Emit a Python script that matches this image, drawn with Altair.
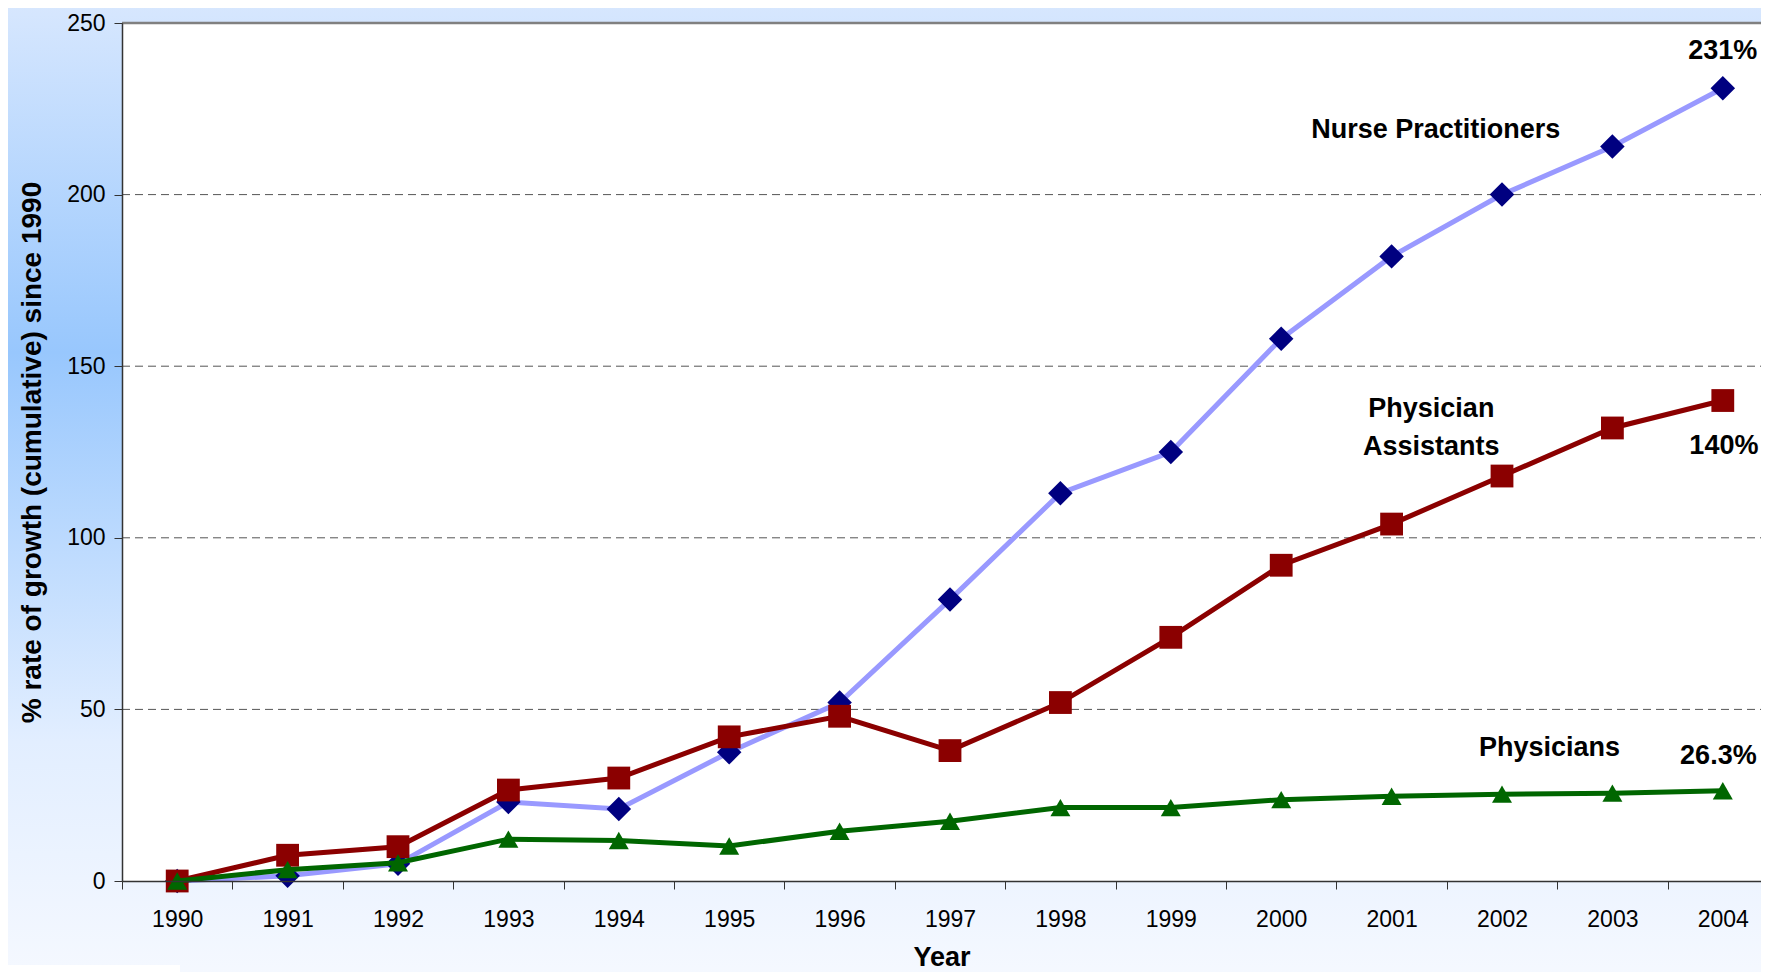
import altair as alt
import pandas as pd

years = list(range(1990, 2005))
nurse_practitioners = [0, 1.5, 5, 23, 21, 37.5, 52, 82, 113, 125, 158, 182, 200, 214, 231]
physician_assistants = [0, 7.5, 10, 26.5, 30, 42, 48, 38, 52, 71, 92, 104, 118, 132, 140]
physicians = [0, 3.3, 5.3, 12.2, 11.8, 10.2, 14.5, 17.4, 21.4, 21.4, 23.7, 24.7, 25.3, 25.6, 26.3]

grid_values = [50, 100, 150, 200]
top_value = [250]
y_ticks = [0, 50, 100, 150, 200, 250]
x_tick_positions = [y - 0.5 for y in years]

ann_text = [["Nurse Practitioners"], ["Physician", "Assistants"], ["Physicians"], ["231%"], ["140%"], ["26.3%"]]
ann_x = [2001.40, 2001.36, 2002.43, 2004.0, 2004.01, 2003.96]
ann_y = [218.8, 137.5, 38.8, 241.8, 126.7, 36.4]

W, H = 1639, 858
FONT = "Liberation Sans"

df = pd.DataFrame({
    "year": years * 3,
    "value": nurse_practitioners + physician_assistants + physicians,
    "series": ["NP"] * 15 + ["PA"] * 15 + ["PH"] * 15,
})
ann = pd.DataFrame({"text": ann_text, "x": ann_x, "y": ann_y})

xscale = alt.Scale(domain=[1989.5, 1989.5 + W / 110.4], nice=False, zero=False)
yscale = alt.Scale(domain=[0, 250], nice=False, zero=True)

xaxis = alt.Axis(
    values=x_tick_positions, labelExpr="format(datum.value + 0.5, 'd')",
    labelOffset=55.2, labelFlush=False, labelOverlap=False, grid=False,
    tickSize=8, tickColor="#333333", domainColor="#333333", domainWidth=1.5,
    labelFont=FONT, labelFontSize=23, labelColor="black", labelPadding=19,
    title="Year", titleFont=FONT, titleFontSize=27, titleFontWeight="bold",
    titleColor="black", titlePadding=13, zindex=1,
)
yaxis = alt.Axis(
    values=y_ticks, grid=False, tickSize=8, tickColor="#333333",
    domainColor="#333333", domainWidth=1.5,
    labelFont=FONT, labelFontSize=23, labelColor="black", labelPadding=9,
    title="% rate of growth (cumulative) since 1990", titleFont=FONT,
    titleFontSize=28, titleFontWeight="bold", titleColor="black",
    titlePadding=20, zindex=1,
)

one = alt.Data(values=[{"a": 1}])

bg = alt.Chart(one).mark_rect(
    color=alt.LinearGradient(
        gradient="linear", x1=0, x2=0, y1=0, y2=1,
        stops=[
            alt.GradientStop(color="#d9e8fe", offset=0),
            alt.GradientStop(color="#98c7fd", offset=0.36),
            alt.GradientStop(color="#e2eeff", offset=0.75),
            alt.GradientStop(color="#f6f9ff", offset=1),
        ],
    )
).encode(x=alt.value(-130), x2=alt.value(W + 20), y=alt.value(-30), y2=alt.value(H + 110))

plot_bg = alt.Chart(one).mark_rect(color="white").encode(
    x=alt.value(0), x2=alt.value(W + 20), y=alt.value(0), y2=alt.value(H)
)
corner = alt.Chart(one).mark_rect(color="white").encode(
    x=alt.value(-130), x2=alt.value(58), y=alt.value(942), y2=alt.value(H + 110)
)

grid = alt.Chart(pd.DataFrame({"v": grid_values})).mark_rule(
    color="#555555", strokeWidth=1, strokeDash=[8, 5]
).encode(y=alt.Y("v:Q", scale=yscale, axis=yaxis), x=alt.value(0), x2=alt.value(W + 20))

top = alt.Chart(pd.DataFrame({"v": top_value})).mark_rule(
    color="#808080", strokeWidth=2.5
).encode(y=alt.Y("v:Q", scale=yscale), x=alt.value(0), x2=alt.value(W + 20))


def series_layers(key, line_color, pt_color, shape, size):
    base = alt.Chart(df).transform_filter(alt.datum.series == key).encode(
        x=alt.X("year:Q", scale=xscale, axis=xaxis),
        y=alt.Y("value:Q", scale=yscale, axis=yaxis),
    )
    line = base.mark_line(color=line_color, strokeWidth=5)
    pts = base.mark_point(filled=True, shape=shape, size=size, color=pt_color, opacity=1)
    return [line, pts]


layers = [bg, plot_bg, corner, grid, top]
layers += series_layers("NP", "#9999ff", "#000080", "diamond", 600)
layers += series_layers("PA", "#8b0000", "#8b0000", "square", 520)
layers += series_layers("PH", "#006600", "#006600", "triangle-up", 400)

texts = alt.Chart(ann).mark_text(
    font=FONT, fontSize=27, fontWeight="bold", color="black",
    align="center", baseline="middle", lineHeight=38,
).encode(
    x=alt.X("x:Q", scale=xscale, axis=xaxis),
    y=alt.Y("y:Q", scale=yscale, axis=yaxis),
    text="text",
)
layers.append(texts)

chart = alt.layer(*layers).properties(
    width=W, height=H,
    padding={"left": 114, "top": 15, "right": 0, "bottom": 91},
    autosize=alt.AutoSizeParams(type="none"),
    background="#eef5ff",
).configure_view(stroke=None)

chart.save("out.html", embed_options={"renderer": "svg", "actions": False})
